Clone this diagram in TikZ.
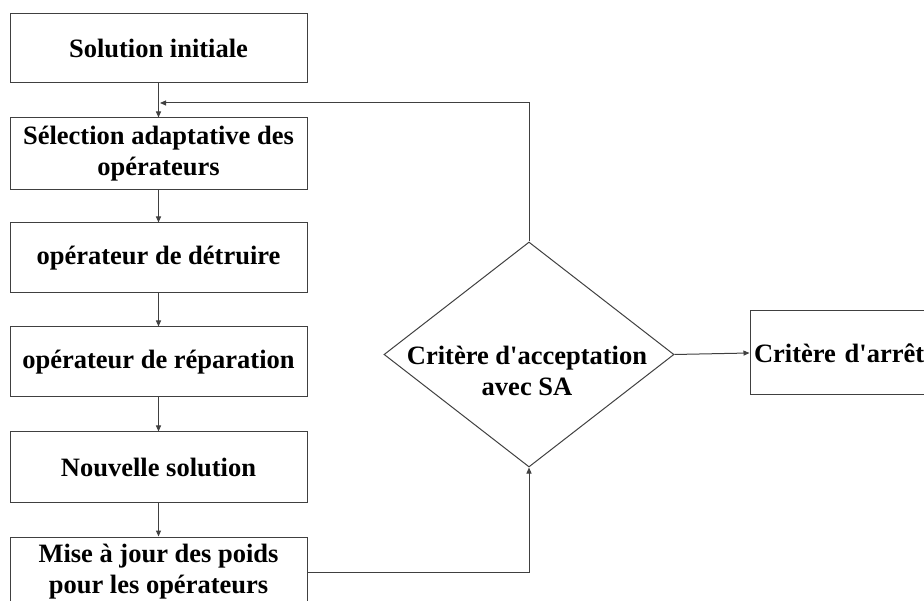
\documentclass[tikz,border=0pt]{standalone}
\usepackage{fontspec}
\setmainfont{Liberation Serif}[Ligatures=TeXOff]
\usetikzlibrary{shapes.geometric,arrows.meta}
\tikzset{
  lbl/.style={font=\fontsize{26.5}{31}\selectfont\bfseries, align=center},
  box/.style={lbl, draw=black!75, line width=1pt, rectangle, minimum width=297pt, inner sep=0pt},
  conn/.style={draw=black!75, line width=1pt, -{Triangle[length=6pt,width=5pt]}},
}
\begin{document}
\begin{tikzpicture}[x=1pt,y=-1pt]
\useasboundingbox (0,0) rectangle (924,601);
\clip (0,0) rectangle (924,601);
\node[box, minimum height=69pt] (b1) at (158.5,48.5) {Solution initiale};
\node[box, minimum height=72pt] (b2) at (158.5,154) {Sélection adaptative des\\opérateurs};
\node[box, minimum height=70pt] (b3) at (158.5,258) {opérateur de détruire};
\node[box, minimum height=70pt] (b4) at (158.5,362) {opérateur de réparation};
\node[box, minimum height=70pt] (b5) at (158.5,467) {Nouvelle solution};
\node[box, minimum height=70pt] (b6) at (158.5,572) {Mise à jour des poids\\pour les opérateurs};
\node[draw=black!75, line width=1pt, diamond, inner sep=0pt, minimum width=290pt, minimum height=225pt] (d) at (529,354.5) {};
\node[lbl] (dt) at (527,371) {Critère d'acceptation\\avec SA};
\node[box, minimum width=180pt, minimum height=84pt, text width=172pt, align=left] (b7) at (840,353) {Critère d'arrêt};
\coordinate (j) at (160,103);
\draw[conn] (b1) -- (b2);
\draw[conn] (b2) -- (b3);
\draw[conn] (b3) -- (b4);
\draw[conn] (b4) -- (b5);
\draw[conn] (b5) -- (b6);
\draw[conn] (b6.east) -| (d.south);
\draw[conn] (d.north) |- (j);
\draw[conn] (d.east) -- (b7.west);
\end{tikzpicture}
\end{document}
